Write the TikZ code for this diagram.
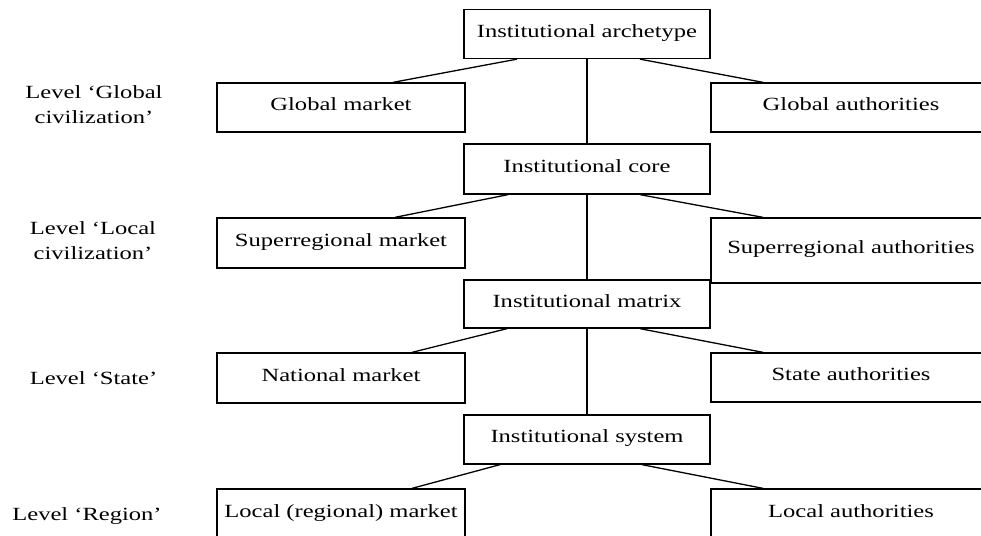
\documentclass[tikz,border=0pt]{standalone}
\usepackage{fontspec}
\setmainfont{Liberation Serif}[FakeStretch=1.32]
\begin{document}
\begin{tikzpicture}[x=1pt,y=-1pt,
  txt/.style={font=\fontsize{18.6}{25}\selectfont},
  box/.style={txt, draw, line width=1.3pt, inner sep=0pt,
    text height=0.66em, text depth=0pt},
  midbox/.style={box, minimum width=246pt},
  leftbox/.style={box, minimum width=248pt},
  rightbox/.style={box, minimum width=280pt},
  link/.style={line width=1.3pt},
  level/.style={txt, align=center, inner sep=0pt}]
\useasboundingbox (0,0) rectangle (981,535);
\clip (0,0) rectangle (981,535);

% central chain
\node[midbox, minimum height=49pt] (arch) at (587,34) {Institutional archetype};
\node[midbox, minimum height=50pt] (core) at (587,169) {Institutional core};
\node[midbox, minimum height=48pt] (matrix) at (587,304) {Institutional matrix};
\node[midbox, minimum height=49pt] (system) at (587,439.5) {Institutional system};

% markets
\node[leftbox, minimum height=49pt] (gm) at (341,107.5) {Global market};
\node[leftbox, minimum height=50pt] (sm) at (341,243) {Superregional market};
\node[leftbox, minimum height=50pt] (nm) at (341,378) {National market};
\node[leftbox, minimum height=50pt] (lm) at (341,514) {Local (regional) market};

% authorities
\node[rightbox, minimum height=49pt] (ga) at (851,107.5) {Global authorities};
\node[rightbox, minimum height=65pt] (sa) at (851,250.5) {Superregional authorities};
\node[rightbox, minimum height=49pt] (sta) at (851,377.5) {State authorities};
\node[rightbox, minimum height=50pt] (la) at (851,514) {Local authorities};

% level labels
\node[level] (lv1) at (94,104.5) {Level ‘Global\\civilization’};
\node[level] (lv2) at (93,240.5) {Level ‘Local\\civilization’};
\node[level] (lv3) at (93.5,378) {Level ‘State’};
\node[level] (lv4) at (87,516) {Level ‘Region’};

% vertical links
\draw[link] (arch.south) -- (core.north);
\draw[link] (core.south) -- (matrix.north);
\draw[link] (matrix.south) -- (system.north);

% side links
\draw[link] ([xshift=-70pt]arch.south) -- ([xshift=52pt]gm.north);
\draw[link] ([xshift=53pt]arch.south) -- ([xshift=-88pt]ga.north);
\draw[link] ([xshift=-79pt]core.south) -- ([xshift=54pt]sm.north);
\draw[link] ([xshift=53pt]core.south) -- ([xshift=-88pt]sa.north);
\draw[link] ([xshift=-80pt]matrix.south) -- ([xshift=71pt]nm.north);
\draw[link] ([xshift=53pt]matrix.south) -- ([xshift=-88pt]sta.north);
\draw[link] ([xshift=-87pt]system.south) -- ([xshift=71pt]lm.north);
\draw[link] ([xshift=55pt]system.south) -- ([xshift=-88pt]la.north);
\end{tikzpicture}
\end{document}
